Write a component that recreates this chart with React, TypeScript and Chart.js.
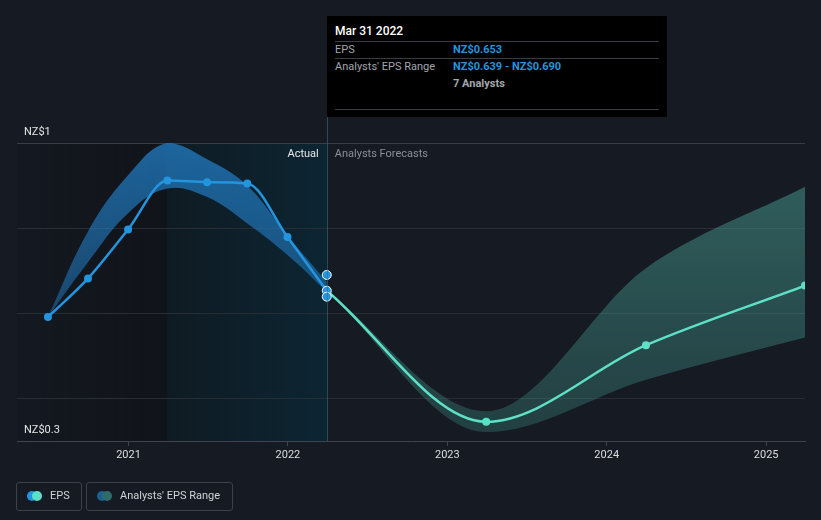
import React, { useEffect, useRef } from 'react';
import { Chart, registerables } from 'chart.js';

Chart.register(...registerables);

// ---------- data ----------
const HIST_DATES = ['2020-06-30', '2020-09-30', '2020-12-31', '2021-03-31', '2021-06-30', '2021-09-30', '2021-12-31', '2022-03-31'];
const HIST_EPS = [0.591, 0.682, 0.797, 0.912, 0.908, 0.905, 0.779, 0.653];
const HIST_HIGH = [0.591, 0.792, 0.924, 1.0, 0.962, 0.9, 0.782, 0.674];
const HIST_LOW = [0.591, 0.72, 0.835, 0.893, 0.873, 0.811, 0.737, 0.651];

const FC_DATES = ['2022-03-31', '2023-03-31', '2024-03-31', '2025-03-31'];
const FC_EPS = [0.653, 0.345, 0.525, 0.665];
const FC_HIGH = [0.653, 0.37, 0.706, 0.897];
const FC_LOW = [0.653, 0.321, 0.444, 0.543];

const MARK_DATE = '2022-03-31';
const MARK_VALUES = [0.69, 0.653, 0.639];

const X_TICKS = [2021, 2022, 2023, 2024, 2025];
const Y_GRID = [0.3, 0.4, 0.6, 0.8, 1.0];
const Y_MIN = 0.3;
const Y_MAX = 1.0;
const X_MIN_DATE = '2020-04-20';
const X_MAX_DATE = '2025-03-31';
const SHADE_START_DATE = '2021-03-31';
const SPLIT_DATE = '2022-03-31';

const TOOLTIP_TITLE = 'Mar 31 2022';
const TOOLTIP_EPS = 'NZ$0.653';
const TOOLTIP_RANGE = 'NZ$0.639 - NZ$0.690';
const TOOLTIP_ANALYSTS = '7 Analysts';

// ---------- helpers ----------
function toYear(d: string): number {
  const [y, m, day] = d.split('-').map(Number);
  const t = Date.UTC(y, m - 1, day);
  const s = Date.UTC(y, 0, 1);
  const e = Date.UTC(y + 1, 0, 1);
  return y + (t - s) / (e - s);
}
function pts(dates: string[], vals: number[]) {
  return dates.map((d, i) => ({ x: toYear(d), y: vals[i] }));
}
function yLabel(v: number): string {
  if (Math.abs(v - 1) < 1e-9) return 'NZ$1';
  if (Math.abs(v - 0.3) < 1e-9) return 'NZ$0.3';
  return '';
}

const FONT = "Roboto, 'Noto Sans', sans-serif";
const BG = '#151a23';
const EPS_BLUE = '#2394df';
const FC_TEAL = '#5ee0c7';

const bgPlugin = {
  id: 'bgShade',
  beforeDraw(chart: any) {
    const { ctx, chartArea, scales } = chart;
    if (!chartArea) return;
    const x = scales.x;
    const xs = x.getPixelForValue(toYear(SHADE_START_DATE));
    const xp = x.getPixelForValue(toYear(SPLIT_DATE));
    const top = chartArea.top;
    const bottom = chartArea.bottom;
    ctx.save();
    // past (darker) region
    const g1 = ctx.createLinearGradient(chartArea.left, 0, xs, 0);
    g1.addColorStop(0, 'rgba(17,20,26,0.2)');
    g1.addColorStop(1, 'rgba(17,20,25,1)');
    ctx.fillStyle = g1;
    ctx.fillRect(chartArea.left, top, xs - chartArea.left, bottom - top);
    // last-year actual region (teal)
    const g2 = ctx.createLinearGradient(xs, 0, xp, 0);
    g2.addColorStop(0, '#0f1b23');
    g2.addColorStop(1, '#0c2532');
    ctx.fillStyle = g2;
    ctx.fillRect(xs, top, xp - xs, bottom - top);
    ctx.restore();
  },
  afterDraw(chart: any) {
    const { ctx, chartArea, scales } = chart;
    if (!chartArea) return;
    const xp = scales.x.getPixelForValue(toYear(SPLIT_DATE));
    ctx.save();
    ctx.strokeStyle = 'rgba(60,105,125,0.6)';
    ctx.lineWidth = 1;
    ctx.beginPath();
    ctx.moveTo(Math.round(xp) + 0.5, 117);
    ctx.lineTo(Math.round(xp) + 0.5, chartArea.bottom);
    ctx.stroke();
    ctx.font = `11px ${FONT}`;
    ctx.textBaseline = 'middle';
    ctx.textAlign = 'right';
    ctx.fillStyle = '#e8e8e8';
    ctx.fillText('Actual', xp - 8, chartArea.top + 11);
    ctx.textAlign = 'left';
    ctx.fillStyle = '#8b9098';
    ctx.fillText('Analysts Forecasts', xp + 8, chartArea.top + 11);
    ctx.restore();
  },
};

function vGrad(ctx: any, top: string, bottom: string) {
  const chart = ctx.chart;
  const area = chart.chartArea;
  if (!area) return top;
  const g = chart.ctx.createLinearGradient(0, area.top, 0, area.bottom);
  g.addColorStop(0, top);
  g.addColorStop(1, bottom);
  return g;
}

export default function App() {
  const ref = useRef<HTMLCanvasElement | null>(null);

  useEffect(() => {
    if (!ref.current) return;
    const chart = new Chart(ref.current, {
      type: 'line',
      data: {
        datasets: [
          {
            label: 'marks',
            data: MARK_VALUES.map((v) => ({ x: toYear(MARK_DATE), y: v })),
            showLine: false,
            pointRadius: 4.5,
            pointBackgroundColor: EPS_BLUE,
            pointBorderColor: '#ffffff',
            pointBorderWidth: 1,
          },
          {
            label: 'EPS',
            data: pts(HIST_DATES, HIST_EPS),
            borderColor: EPS_BLUE,
            borderWidth: 2.5,
            pointRadius: 4,
            pointBackgroundColor: EPS_BLUE,
            pointBorderWidth: 0,
            cubicInterpolationMode: 'monotone',
            fill: false,
          },
          {
            label: 'EPS forecast',
            data: pts(FC_DATES, FC_EPS),
            borderColor: FC_TEAL,
            borderWidth: 2.5,
            pointRadius: (c: any) => (c.dataIndex === 0 ? 0 : 4),
            pointBackgroundColor: FC_TEAL,
            pointBorderWidth: 0,
            cubicInterpolationMode: 'monotone',
            fill: false,
          },
          {
            label: 'hist high',
            data: pts(HIST_DATES, HIST_HIGH),
            borderWidth: 0,
            pointRadius: 0,
            tension: 0.4,
            fill: '+1',
            backgroundColor: (c: any) => vGrad(c, 'rgba(34,130,205,0.72)', 'rgba(34,130,205,0.25)'),
          },
          {
            label: 'hist low',
            data: pts(HIST_DATES, HIST_LOW),
            borderWidth: 0,
            pointRadius: 0,
            tension: 0.4,
            fill: false,
          },
          {
            label: 'fc high',
            data: pts(FC_DATES, FC_HIGH),
            borderWidth: 0,
            pointRadius: 0,
            cubicInterpolationMode: 'monotone',
            fill: '+1',
            backgroundColor: (c: any) => vGrad(c, 'rgba(79,170,157,0.5)', 'rgba(75,170,155,0.25)'),
          },
          {
            label: 'fc low',
            data: pts(FC_DATES, FC_LOW),
            borderWidth: 0,
            pointRadius: 0,
            cubicInterpolationMode: 'monotone',
            fill: false,
          },
        ],
      },
      options: {
        animation: false,
        responsive: false,
        maintainAspectRatio: false,
        events: [],
        layout: { padding: { left: 17, right: 16, top: 143, bottom: 0 } },
        scales: {
          x: {
            type: 'linear',
            min: toYear(X_MIN_DATE),
            max: toYear(X_MAX_DATE),
            afterBuildTicks: (s: any) => {
              s.ticks = X_TICKS.map((v) => ({ value: v }));
            },
            afterFit: (s: any) => {
              s.height = 79;
            },
            ticks: {
              callback: (v: any) => String(v),
              color: '#dedede',
              font: { family: FONT, size: 11 },
              padding: 3,
              maxRotation: 0,
              autoSkip: false,
            },
            grid: { drawOnChartArea: false, drawTicks: true, tickLength: 5, color: '#3f444c' },
            border: { color: '#3f444c', width: 1 },
          },
          y: {
            type: 'linear',
            min: Y_MIN,
            max: Y_MAX,
            afterBuildTicks: (s: any) => {
              s.ticks = Y_GRID.map((v) => ({ value: v }));
            },
            afterFit: (s: any) => {
              s.width = 0;
            },
            ticks: {
              mirror: true,
              padding: 7,
              labelOffset: -11,
              callback: (v: any) => yLabel(Number(v)),
              color: '#e6e6e6',
              font: { family: FONT, size: 11 },
              autoSkip: false,
            },
            grid: {
              drawTicks: false,
              color: (c: any) =>
                c.tick && Math.abs(c.tick.value - 0.3) < 1e-9
                  ? 'rgba(0,0,0,0)'
                  : c.tick && Math.abs(c.tick.value - 1) < 1e-9
                  ? '#383c44'
                  : '#272c35',
            },
            border: { display: false },
          },
        },
        plugins: {
          legend: { display: false },
          tooltip: { enabled: false },
        },
      } as any,
      plugins: [bgPlugin],
    });
    return () => chart.destroy();
  }, []);

  const sep = (top: number) => (
    <div style={{ position: 'absolute', left: 8, width: 324, top, height: 1, background: '#393c41' }} />
  );
  const rowText = (top: number, left: number, text: string, color: string, bold: boolean) => (
    <div
      style={{
        position: 'absolute',
        left,
        top,
        lineHeight: '13px',
        fontSize: 11,
        color,
        fontWeight: bold ? 700 : 400,
        whiteSpace: 'nowrap',
      }}
    >
      {text}
    </div>
  );

  const legendBox = (left: number, width: number, c1: string, c2: string, text: string) => (
    <div
      style={{
        position: 'absolute',
        left,
        top: 482,
        width,
        height: 27,
        border: '1px solid #3b4049',
        borderRadius: 3,
      }}
    >
      <div style={{ position: 'absolute', left: 10, top: 8, width: 10, height: 10, borderRadius: 5, background: c1 }} />
      <div style={{ position: 'absolute', left: 15, top: 8, width: 10, height: 10, borderRadius: 5, background: c2 }} />
      <div
        style={{
          position: 'absolute',
          left: 33,
          top: 6,
          fontSize: 11,
          lineHeight: '14px',
          color: '#cfd2d6',
          whiteSpace: 'nowrap',
        }}
      >
        {text}
      </div>
    </div>
  );

  return (
    <div
      style={{
        position: 'fixed',
        left: 0,
        top: 0,
        width: 821,
        height: 520,
        background: BG,
        overflow: 'hidden',
        fontFamily: FONT,
      }}
    >
      <canvas ref={ref} width={821} height={520} style={{ position: 'absolute', left: 0, top: 0, width: 821, height: 520 }} />
      <div style={{ position: 'absolute', left: 327, top: 16, width: 340, height: 101, background: '#000' }}>
        <div
          style={{
            position: 'absolute',
            left: 8,
            top: 8,
            fontSize: 12,
            lineHeight: '14px',
            color: '#ffffff',
            fontWeight: 500,
            whiteSpace: 'nowrap',
          }}
        >
          {TOOLTIP_TITLE}
        </div>
        {sep(25)}
        {rowText(27, 8, 'EPS', '#a2a6ad', false)}
        {rowText(27, 126, TOOLTIP_EPS, EPS_BLUE, true)}
        {sep(42)}
        {rowText(44, 8, "Analysts' EPS Range", '#a2a6ad', false)}
        {rowText(44, 126, TOOLTIP_RANGE, EPS_BLUE, true)}
        {rowText(61, 126, TOOLTIP_ANALYSTS, '#a2a6ad', true)}
        {sep(93)}
      </div>
      {legendBox(16, 64, EPS_BLUE, FC_TEAL, 'EPS')}
      {legendBox(86, 145, '#1d5f92', '#2e6d6a', "Analysts' EPS Range")}
    </div>
  );
}
